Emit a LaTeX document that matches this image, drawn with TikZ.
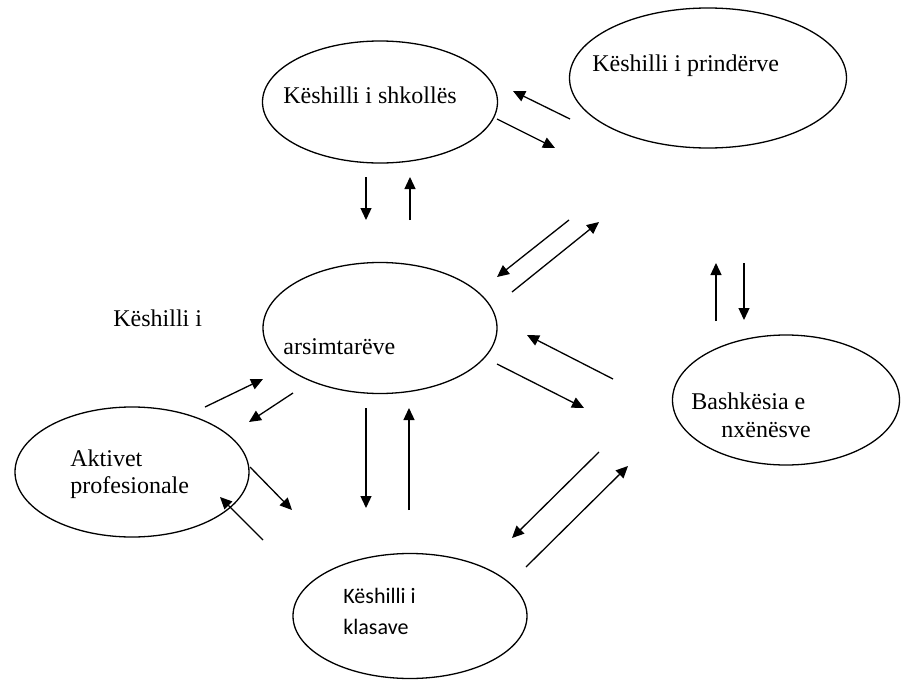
\documentclass[tikz,border=0pt]{standalone}
\usepackage{fontspec}
\setmainfont{Liberation Serif}
\newfontfamily\carlito{Carlito}
\usepackage{tikz}
\usetikzlibrary{shapes.geometric, arrows.meta}

\begin{document}
\begin{tikzpicture}[x=0.5pt, y=-0.5pt,
        every node/.style={inner sep=0pt},
        ovale/.style={draw, ellipse, line width=0.65pt},
        txt/.style={anchor=base west, font=\fontsize{12}{14}\selectfont},
        arr/.style={line width=0.65pt, -{Triangle[length=6pt, width=5.5pt]}}]
        \useasboundingbox (0,0) rectangle (901,686);
        % ellipses
        \node[ovale, minimum width=117.5pt, minimum height=61pt] (shkolla) at (380,102) {};
        \node[ovale, minimum width=138.5pt, minimum height=70pt] (prinderit) at (708,78) {};
        \node[ovale, minimum width=117pt, minimum height=65.5pt] (arsimtaret) at (380,328) {};
        \node[ovale, minimum width=117pt, minimum height=65pt] (aktivet) at (132,472) {};
        \node[ovale, minimum width=117pt, minimum height=62.5pt] (klasat) at (410,616) {};
        \node[ovale, minimum width=113.5pt, minimum height=65pt] (bashkesia) at (786,400) {};
        % texts
        \node[txt] (T_shkolla) at (283,103) {Këshilli i shkollës};
        \node[txt] (T_prinderit) at (592,71) {Këshilli i prindërve};
        \node[txt] (T_arsim_0) at (113,326) {Këshilli i};
        \node[txt] (T_arsim_1) at (283,354) {arsimtarëve};
        \node[txt] (T_aktivet_0) at (70,466) {Aktivet};
        \node[txt] (T_aktivet_1) at (70,493) {profesionale};
        \node[txt, font=\carlito\fontsize{11}{13}\selectfont] (T_klasat_0) at (343,603) {Këshilli i};
        \node[txt, font=\carlito\fontsize{11}{13}\selectfont] (T_klasat_1) at (343,634) {klasave};
        \node[txt] (T_bashk_0) at (691,409) {Bashkësia e};
        \node[txt] (T_bashk_1) at (721,437) {nxënësve};
        % arrow ends
        \foreach \nm/\xx/\yy in {a1/570/119, b1/513/91, a2/497/119, b2/555/148,
                                 a3/366/177, b3/366/220, a4/410/220, b4/410/177,
                                 a5/569/220, b5/497/277, a6/512/292, b6/599/222,
                                 a7/716/321, b7/716/263, a8/744/263, b8/744/320,
                                 a9/613/379, b9/527/335, a10/497/364, b10/584/408,
                                 a11/205/407, b11/263/379, a12/293/393, b12/249/422,
                                 a13/366/408, b13/366/508, a14/409/510, b14/409/408,
                                 a15/250/467, b15/292/510, a16/263/540, b16/220/497,
                                 a17/599/452, b17/512/538, a18/526/567, b18/628/466}{
            \coordinate (\nm) at (\xx,\yy);
        }
        \foreach \ii in {1,...,18}{
            \draw[arr] (a\ii) -- (b\ii);
        }
    \end{tikzpicture}
\end{document}
